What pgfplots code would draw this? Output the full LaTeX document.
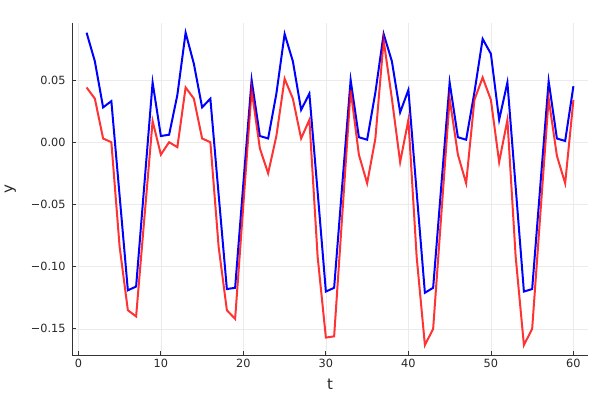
\documentclass[border=0pt]{standalone}
\usepackage{pgfplots}
\pgfplotsset{compat=1.18}
\usepackage{fontspec}
\setmainfont{DejaVu Sans}
\pgfplotstableread{
t y
1 0.088
2 0.065
3 0.028
4 0.033
5 -0.043
6 -0.119
7 -0.116
8 -0.034
9 0.048
10 0.005
11 0.006
12 0.038
13 0.088
14 0.063
15 0.028
16 0.035
17 -0.042
18 -0.118
19 -0.117
20 -0.033
21 0.050
22 0.005
23 0.003
24 0.039
25 0.087
26 0.065
27 0.026
28 0.039
29 -0.040
30 -0.120
31 -0.117
32 -0.033
33 0.050
34 0.004
35 0.002
36 0.040
37 0.087
38 0.065
39 0.024
40 0.042
41 -0.040
42 -0.121
43 -0.117
44 -0.034
45 0.048
46 0.004
47 0.002
48 0.040
49 0.083
50 0.071
51 0.018
52 0.048
53 -0.036
54 -0.120
55 -0.118
56 -0.034
57 0.049
58 0.003
59 0.001
60 0.045
}\bluedata
\pgfplotstableread{
t y
1 0.044
2 0.035
3 0.003
4 0.000
5 -0.084
6 -0.135
7 -0.140
8 -0.061
9 0.017
10 -0.010
11 0.000
12 -0.004
13 0.044
14 0.035
15 0.003
16 0.000
17 -0.084
18 -0.135
19 -0.142
20 -0.050
21 0.042
22 -0.005
23 -0.025
24 0.005
25 0.051
26 0.035
27 0.003
28 0.018
29 -0.092
30 -0.157
31 -0.156
32 -0.057
33 0.042
34 -0.010
35 -0.033
36 0.003
37 0.082
38 0.035
39 -0.016
40 0.018
41 -0.092
42 -0.163
43 -0.150
44 -0.057
45 0.035
46 -0.010
47 -0.033
48 0.034
49 0.052
50 0.034
51 -0.016
52 0.018
53 -0.092
54 -0.163
55 -0.150
56 -0.057
57 0.035
58 -0.011
59 -0.033
60 0.034
}\reddata
\begin{document}
\begin{tikzpicture}[x=1bp,y=1bp]
\useasboundingbox (0,0) rectangle (600,400);
\begin{axis}[
  at={(72bp,45bp)}, anchor=south west,
  scale only axis, width=516bp, height=332bp,
  xmin=-0.77, xmax=61.77, ymin=-0.171, ymax=0.0958,
  axis x line*=bottom, axis y line*=left,
  axis line style={black!80, line width=0.9bp, -},
  tick align=inside,
  major tick length=4bp,
  tick style={black!80, line width=0.8bp},
  xtick={0,10,20,30,40,50,60},
  ytick={-0.15,-0.10,-0.05,0,0.05},
  yticklabels={−0.15,−0.10,−0.05,0.00,0.05},
  /pgf/number format/assume math mode=true,
  tick label style={font=\fontsize{11.3bp}{13bp}\selectfont, black!85},
  xticklabel style={yshift=-1bp},
  yticklabel style={xshift=-3bp},
  grid=major,
  major grid style={black!8, line width=0.6bp},
  xlabel={t}, ylabel={y},
  label style={font=\fontsize{15bp}{17bp}\selectfont, black!85},
  xlabel style={yshift=-4bp},
  ylabel style={yshift=8bp},
  clip=true,
]
\addplot[blue, line width=2bp] table[x=t,y=y]{\bluedata};
\addplot[red, opacity=0.8, line width=2bp] table[x=t,y=y]{\reddata};
\end{axis}
\end{tikzpicture}
\end{document}
